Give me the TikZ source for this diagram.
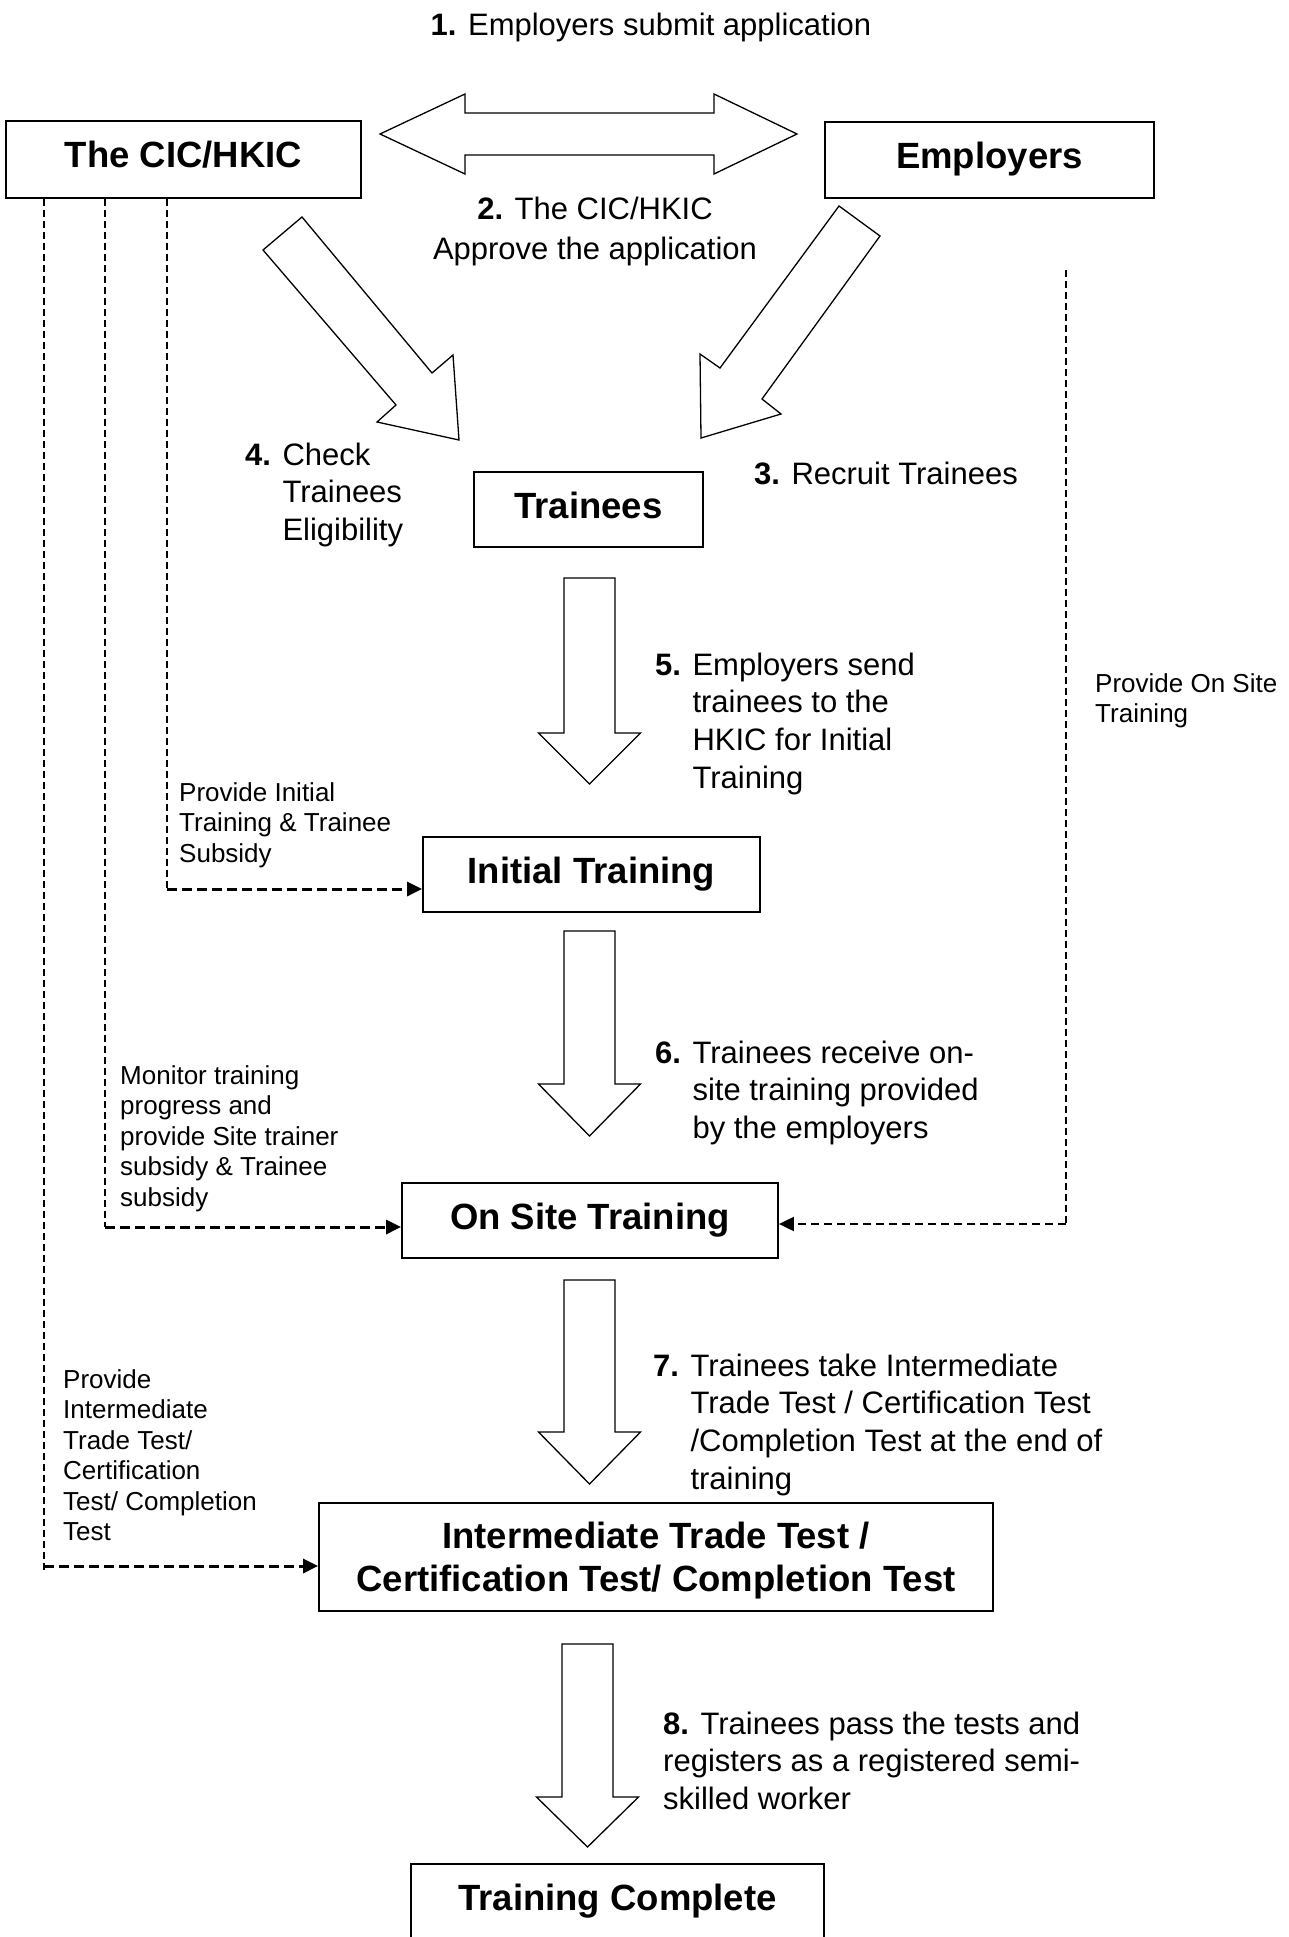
\documentclass[tikz,border=0pt]{standalone}
\usepackage{fontspec}
\setmainfont{Liberation Sans}
\usetikzlibrary{arrows.meta,calc}
\newcommand{\BlockDown}[4]{%
  \draw[blockarrow] (#1-25.5,#2) -- (#1+25.5,#2) -- (#1+25.5,#3) -- (#1+51,#3)
    -- (#1,#4) -- (#1-51,#3) -- (#1-25.5,#3) -- cycle;}
\begin{document}
\begin{tikzpicture}[x=1pt,y=-1pt,
  boxnode/.style={draw, line width=1.8pt, inner sep=0pt,
    font=\fontsize{36.5}{43}\selectfont\bfseries},
  boxlbl/.style={inner sep=0pt, font=\fontsize{36.5}{43}\selectfont\bfseries},
  onel/.style={text height=26pt, text depth=9pt},
  blockarrow/.style={draw, line width=1.3pt, fill=white, line join=miter},
  steptxt/.style={inner sep=0pt, font=\fontsize{31}{37.7}\selectfont},
  notetxt/.style={inner sep=0pt, font=\fontsize{26}{30.5}\selectfont},
  vdash/.style={line width=1.3pt, dash pattern=on 7pt off 4pt},
  hdash/.style={line width=3pt, dash pattern=on 10pt off 5pt,
    -{Triangle[length=15pt,width=14pt]}},
  hdashb/.style={line width=2pt, dash pattern=on 8pt off 5pt,
    -{Triangle[length=15pt,width=14pt]}}]
\useasboundingbox (0,0) rectangle (1289,1937);
\clip (0,0) rectangle (1289,1937);
\fill[white] (0,0) rectangle (1289,1937);

% boxes
\node[boxnode, onel, minimum width=355pt, minimum height=77pt] (cic) at (183.5,159.5) {The CIC/HKIC};
\node[boxnode, onel, minimum width=329pt, minimum height=76pt] (emp) at (989.5,160) {Employers};
\node[boxnode, onel, minimum width=229pt, minimum height=75pt] (trn) at (588.5,509.5) {Trainees};
\node[boxnode, onel, minimum width=337pt, minimum height=75pt] (init) at (591.5,874.5) {Initial Training};
\node[boxnode, onel, minimum width=376pt, minimum height=75pt] (onsite) at (590,1220.5) {On Site Training};
\node[boxnode, minimum width=674pt, minimum height=108pt] (inter) at (656,1557) {};
\node[boxlbl, align=center] (interlbl) at ($(inter.center)+(0,4)$)
  {Intermediate Trade Test /\\Certification Test/ Completion Test};
\node[boxnode, text height=26pt, text depth=14pt, minimum width=413pt, minimum height=81pt] (done) at (617.5,1904.5) {Training Complete};

% double arrow between CIC and Employers
\draw[blockarrow] (380,134) -- (465,94) -- (465,113) -- (714,113) -- (714,94) -- (797,134)
  -- (714,174) -- (714,155) -- (465,155) -- (465,174) -- cycle;

% diagonal arrows
\draw[blockarrow] (302,217) -- (432,373) -- (453,355) -- (459,440) -- (377,422) -- (396,405) -- (263,250) -- cycle;
\draw[blockarrow] (839,206) -- (880,236) -- (762,399) -- (781,414) -- (701,438) -- (700,354) -- (720,368) -- cycle;

% down arrows
\BlockDown{589.5}{578}{733}{784}
\BlockDown{589.5}{931}{1084}{1136}
\BlockDown{589.5}{1280}{1432}{1484}
\BlockDown{587.5}{1644}{1797}{1847}

% texts
\node[steptxt, anchor=base] (t1) at (651,35.5) {\textbf{1.} Employers submit application};
\node[steptxt, anchor=base, font=\fontsize{31}{40}\selectfont] (t2) at (595,219)
  {\begin{tabular}[t]{@{}c@{}}\textbf{2.} The CIC/HKIC\\Approve the application\end{tabular}};
\node[steptxt, anchor=base west] (t3) at (754,484.5) {\textbf{3.} Recruit Trainees};
\node[steptxt, anchor=base west] (t4) at (245,465)
  {\begin{tabular}[t]{@{}l@{ }l@{}}\textbf{4.}&Check\\&Trainees\\&Eligibility\end{tabular}};
\node[steptxt, anchor=base west] (t5) at (655,675)
  {\begin{tabular}[t]{@{}l@{ }l@{}}\textbf{5.}&Employers send\\&trainees to the\\&HKIC for Initial\\&Training\end{tabular}};
\node[steptxt, anchor=base west] (t6) at (655,1063.2)
  {\begin{tabular}[t]{@{}l@{ }l@{}}\textbf{6.}&Trainees receive on-\\&site training provided\\&by the employers\end{tabular}};
\node[steptxt, anchor=base west] (t7) at (653,1376)
  {\begin{tabular}[t]{@{}l@{ }l@{}}\textbf{7.}&Trainees take Intermediate\\&Trade Test / Certification Test\\&/Completion Test at the end of\\&training\end{tabular}};
\node[steptxt, anchor=base west] (t8) at (663,1734)
  {\begin{tabular}[t]{@{}l@{}}\textbf{8.} Trainees pass the tests and\\registers as a registered semi-\\skilled worker\end{tabular}};

% side notes
\node[notetxt, anchor=base west, font=\fontsize{26}{30}\selectfont] (n1) at (1095,692.5)
  {\begin{tabular}[t]{@{}l@{}}Provide On Site\\Training\end{tabular}};
\node[notetxt, anchor=base west] (n2) at (179,801.4)
  {\begin{tabular}[t]{@{}l@{}}Provide Initial\\Training \& Trainee\\Subsidy\end{tabular}};
\node[notetxt, anchor=base west] (n3) at (120,1084.4)
  {\begin{tabular}[t]{@{}l@{}}Monitor training\\progress and\\provide Site trainer\\subsidy \& Trainee\\subsidy\end{tabular}};
\node[notetxt, anchor=base west] (n4) at (63,1388.4)
  {\begin{tabular}[t]{@{}l@{}}Provide\\Intermediate\\Trade Test/\\Certification\\Test/ Completion\\Test\end{tabular}};

% dashed connectors
\coordinate (k1) at (167,889);
\coordinate (k2) at (105,1227);
\coordinate (k3) at (44,1566);
\coordinate (k4) at (1066,1224);
\coordinate (k4top) at (1066,270);
\draw[vdash] (cic.south -| k1) -- (k1);
\draw[hdash] (k1) -- (k1 -| init.west);
\draw[vdash] (cic.south -| k2) -- (k2);
\draw[hdash] (k2) -- (k2 -| onsite.west);
\draw[vdash] (cic.south -| k3) -- ($(k3)+(0,5)$);
\draw[hdash] (k3) -- (k3 -| inter.west);
\draw[vdash] (k4top) -- (k4);
\draw[hdashb] (k4) -- (k4 -| onsite.east);
\end{tikzpicture}
\end{document}
